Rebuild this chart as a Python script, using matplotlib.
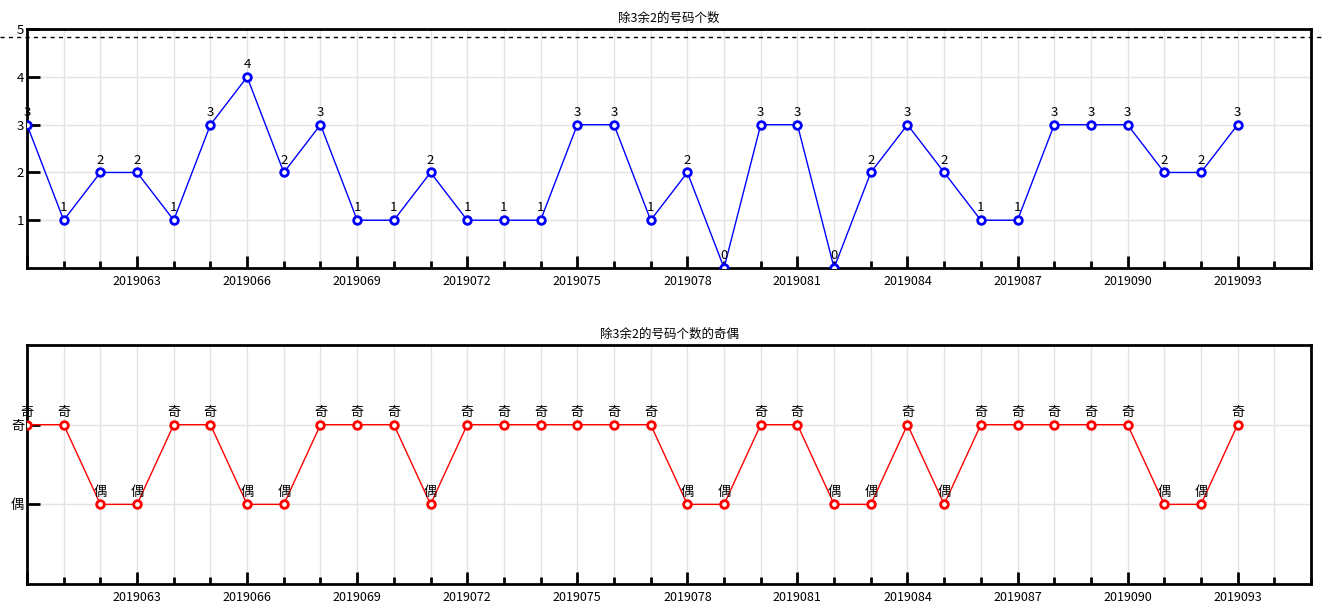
import matplotlib.pyplot as plt
from matplotlib.ticker import MultipleLocator, FuncFormatter

plt.rcParams['font.family'] = ['Noto Sans CJK SC', 'DejaVu Sans']

# issue numbers 2019060 .. 2019093
issues = list(range(60, 94))
counts = [3, 1, 2, 2, 1, 3, 4, 2, 3, 1, 1, 2, 1, 1, 1, 3, 3, 1, 2, 0,
          3, 3, 0, 2, 3, 2, 1, 1, 3, 3, 3, 2, 2, 3]
parity = [c % 2 for c in counts]      # 1 = 奇, 0 = 偶
parity_text = ['奇' if p else '偶' for p in parity]
ref_level = 4.83

fig = plt.figure(figsize=(13.24, 6.09), dpi=100)
ax1 = fig.add_axes([0.0204, 0.560, 0.9698, 0.392])
ax2 = fig.add_axes([0.0204, 0.041, 0.9698, 0.3925])

def style(ax):
    ax.set_xlim(60, 95)
    ax.xaxis.set_major_locator(MultipleLocator(3))
    ax.xaxis.set_minor_locator(MultipleLocator(1))
    ax.xaxis.set_major_formatter(FuncFormatter(lambda v, p: '' if v <= 60 else '2019%03d' % v))
    ax.grid(True, which='both', axis='x', color='#e3e3e3', lw=1)
    ax.grid(True, which='major', axis='y', color='#e3e3e3', lw=1)
    ax.set_axisbelow(True)
    for s in ax.spines.values():
        s.set_linewidth(2)
    ax.tick_params(axis='x', which='major', direction='in', length=9, width=2, labelsize=9, pad=5)
    ax.tick_params(axis='x', which='minor', direction='in', length=5, width=2)
    ax.tick_params(axis='y', direction='in', length=9, width=2, labelsize=9.5, pad=2)

# top chart
ax1.plot(issues, counts, color='blue', lw=1, marker='o', ms=5.5, mfc='white', mec='blue', mew=2, zorder=3)
for x, y in zip(issues, counts):
    ax1.text(x, y + 0.12, str(y), ha='center', va='bottom', fontsize=9.5)
ax1.set_ylim(0, 5)
ax1.set_yticks([1, 2, 3, 4, 5])
ax1.axhline(ref_level, xmin=-0.021, xmax=1.011, color='black', lw=1, ls=(0, (3, 3)), clip_on=False)
ax1.set_title('除3余2的号码个数', fontsize=9, pad=5)
style(ax1)

# bottom chart
ax2.plot(issues, parity, color='red', lw=1, marker='o', ms=5.5, mfc='white', mec='red', mew=2, zorder=3)
for x, y, t in zip(issues, parity, parity_text):
    ax2.text(x, y + 0.07, t, ha='center', va='bottom', fontsize=9.5)
ax2.set_ylim(-1, 2)
ax2.set_yticks([1, 0])
ax2.set_yticklabels(['奇', '偶'], fontsize=10)
ax2.set_title('除3余2的号码个数的奇偶', fontsize=9, pad=5)
style(ax2)

fig.savefig('out.png', dpi=100)
